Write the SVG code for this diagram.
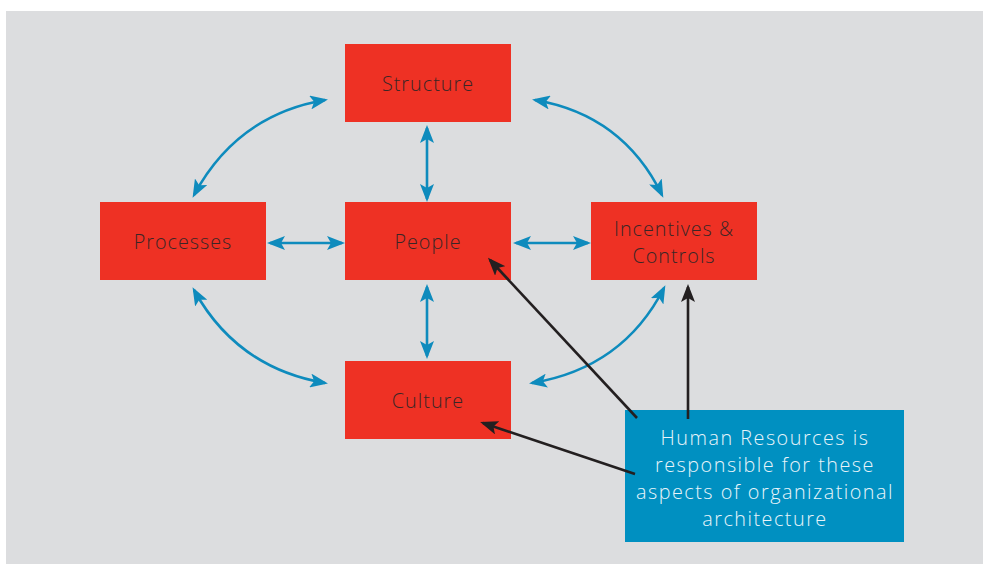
<svg xmlns="http://www.w3.org/2000/svg" width="984" height="565" viewBox="0 0 984 565">
<style>
.node{fill:#ee3124}
.lbl{font-family:"Open Sans","Liberation Sans",sans-serif;font-size:19.8px;font-weight:300;letter-spacing:1px;fill:#3a2626;text-anchor:middle}
.hr{font-family:"Open Sans","Liberation Sans",sans-serif;font-size:19.8px;font-weight:300;letter-spacing:1.5px;fill:#e8f4fa;text-anchor:middle}
.blue{fill:none;stroke:#0e8bbd;stroke-width:2.6}
.blk{fill:none;stroke:#231f20;stroke-width:2.6}
</style>
<defs>
<marker id="ab" markerUnits="userSpaceOnUse" viewBox="0 0 18 14" refX="15" refY="7" markerWidth="18" markerHeight="14" orient="auto-start-reverse">
<path d="M0,0 L18,7 L0,14 L4,7 z" fill="#0e8bbd"/>
</marker>
<marker id="ak" markerUnits="userSpaceOnUse" viewBox="0 0 18 14" refX="15" refY="7" markerWidth="18" markerHeight="14" orient="auto">
<path d="M0,0 L18,7 L0,14 L4,7 z" fill="#231f20"/>
</marker>
</defs>
<rect x="6" y="11" width="977" height="553" fill="#dcdddf"/>
<g id="structure"><rect class="node" x="345" y="44" width="166" height="78"/><text class="lbl" x="428" y="91">Structure</text></g>
<g id="processes"><rect class="node" x="100" y="202" width="166" height="78"/><text class="lbl" x="183" y="249">Processes</text></g>
<g id="people"><rect class="node" x="345" y="202" width="166" height="78"/><text class="lbl" x="428" y="249">People</text></g>
<g id="incentives"><rect class="node" x="591" y="202" width="166" height="78"/><text class="lbl" x="674" y="236">Incentives &amp;</text><text class="lbl" x="674" y="263">Controls</text></g>
<g id="culture"><rect class="node" x="345" y="361" width="166" height="78"/><text class="lbl" x="428" y="408">Culture</text></g>
<g id="hr"><rect x="625" y="410" width="279" height="132" fill="#0090c1"/>
<text class="hr" x="765" y="445">Human Resources is</text>
<text class="hr" x="765" y="472">responsible for these</text>
<text class="hr" x="765" y="499">aspects of organizational</text>
<text class="hr" x="765" y="526">architecture</text></g>
<g id="connectors">
<path class="blue" d="M325,100 Q237,115 194,195" marker-start="url(#ab)" marker-end="url(#ab)"/>
<path class="blue" d="M535,100 Q623,115 662,195" marker-start="url(#ab)" marker-end="url(#ab)"/>
<path class="blue" d="M194,290 Q237,368 325,383" marker-start="url(#ab)" marker-end="url(#ab)"/>
<path class="blue" d="M664,288 Q623,368 532,383" marker-start="url(#ab)" marker-end="url(#ab)"/>
<path class="blue" d="M270,243 L342,243" marker-start="url(#ab)" marker-end="url(#ab)"/>
<path class="blue" d="M516,243 L588,243" marker-start="url(#ab)" marker-end="url(#ab)"/>
<path class="blue" d="M427,128 L427,199" marker-start="url(#ab)" marker-end="url(#ab)"/>
<path class="blue" d="M427,287 L427,356" marker-start="url(#ab)" marker-end="url(#ab)"/>
<path class="blk" d="M637,418 L490,260" marker-end="url(#ak)"/>
<path class="blk" d="M688,419 L688,287" marker-end="url(#ak)"/>
<path class="blk" d="M635,474 L483,423" marker-end="url(#ak)"/>
</g>
</svg>
